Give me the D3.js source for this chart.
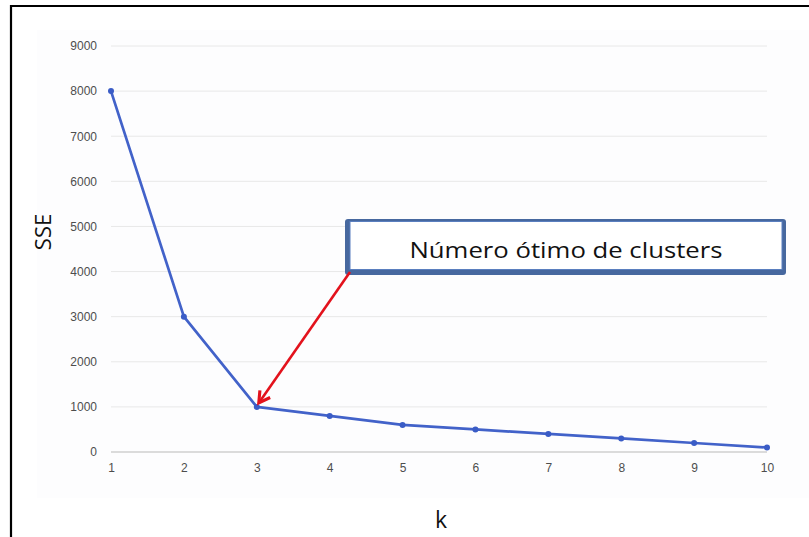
<!DOCTYPE html>
<html>
<head>
<meta charset="utf-8">
<script src="https://cdn.jsdelivr.net/npm/d3@7"></script>
<style>
  html, body { margin: 0; padding: 0; background: #fff; }
  svg { display: block; }
</style>
</head>
<body>
<svg id="chart" width="809" height="537"></svg>
<script>
// Elbow curve: sum of squared errors by number of clusters k
const kValues = [1, 2, 3, 4, 5, 6, 7, 8, 9, 10];
const sseValues = [8000, 3000, 1000, 800, 600, 500, 400, 300, 200, 100];
const yTicks = [0, 1000, 2000, 3000, 4000, 5000, 6000, 7000, 8000, 9000];
const xLabel = "k";
const yLabel = "SSE";
const calloutText = "Número ótimo de clusters";
const calloutK = 3;

const data = kValues.map((k, i) => ({ k, sse: sseValues[i] }));

const svg = d3.select("#chart");

// outer frame (top and left edges)
svg.append("path")
  .attr("d", "M11,537 L11,6 L809,6")
  .attr("fill", "none")
  .attr("stroke", "#000")
  .attr("stroke-width", 2.2);

// faint plot panel
svg.append("rect")
  .attr("x", 37).attr("y", 30)
  .attr("width", 772).attr("height", 468)
  .attr("fill", "#fdfdfe");

const x = d3.scaleLinear().domain([1, 10]).range([111, 767]);
const y = d3.scaleLinear().domain([0, 9000]).range([452, 46]);

// horizontal gridlines
svg.append("g")
  .selectAll("line")
  .data(yTicks)
  .join("line")
  .attr("x1", x(1)).attr("x2", x(10))
  .attr("y1", d => y(d)).attr("y2", d => y(d))
  .attr("stroke", d => d === 0 ? "#cfcfcf" : "#e8e8e8")
  .attr("stroke-width", d => d === 0 ? 1.6 : 1);

// y axis labels
const yAxis = d3.axisLeft(y).tickValues(yTicks).tickSize(0).tickPadding(0).tickFormat(d3.format("d"));
svg.append("g")
  .attr("transform", `translate(97,0)`)
  .call(yAxis)
  .call(g => g.select(".domain").remove())
  .call(g => g.selectAll("text")
    .attr("fill", "#4d4d4d")
    .attr("font-family", "Liberation Sans, Arial, sans-serif")
    .attr("font-size", 12));

// x axis labels
const xAxis = d3.axisBottom(x).tickValues(kValues).tickSize(0).tickPadding(0).tickFormat(d3.format("d"));
svg.append("g")
  .attr("transform", `translate(0,463)`)
  .call(xAxis)
  .call(g => g.select(".domain").remove())
  .call(g => g.selectAll("text")
    .attr("fill", "#4d4d4d")
    .attr("font-family", "Liberation Sans, Arial, sans-serif")
    .attr("font-size", 12));

// axis titles
svg.append("text")
  .attr("transform", `translate(51,232) rotate(-90)`)
  .attr("text-anchor", "middle")
  .attr("font-family", "Open Sans, Noto Sans, sans-serif")
  .attr("font-size", 22)
  .attr("fill", "#111")
  .text(yLabel);

svg.append("text")
  .attr("x", 441).attr("y", 528)
  .attr("text-anchor", "middle")
  .attr("font-family", "Open Sans, Noto Sans, sans-serif")
  .attr("font-size", 23)
  .attr("fill", "#111")
  .text(xLabel);

// the SSE curve
const line = d3.line().x(d => x(d.k)).y(d => y(d.sse));
svg.append("path")
  .datum(data)
  .attr("d", line)
  .attr("fill", "none")
  .attr("stroke", "#4262c9")
  .attr("stroke-width", 2.7)
  .attr("stroke-linejoin", "round");

svg.append("g")
  .selectAll("circle")
  .data(data)
  .join("circle")
  .attr("cx", d => x(d.k))
  .attr("cy", d => y(d.sse))
  .attr("r", 3)
  .attr("fill", "#3a5cc6");

// callout box
const box = { x: 345, y: 219, w: 441, h: 56 };
svg.append("rect")
  .attr("x", box.x).attr("y", box.y)
  .attr("width", box.w).attr("height", box.h)
  .attr("rx", 3)
  .attr("fill", "#47689f");
svg.append("rect")
  .attr("x", box.x + 5).attr("y", box.y + 2.5)
  .attr("width", box.w - 9).attr("height", box.h - 8)
  .attr("fill", "#fff")
  .attr("stroke", "#5a7fbf")
  .attr("stroke-width", 1);
svg.append("text")
  .attr("x", box.x + 5 + (box.w - 9) / 2)
  .attr("y", box.y + 39)
  .attr("text-anchor", "middle")
  .attr("font-family", "Open Sans, Noto Sans, sans-serif")
  .attr("font-size", 22)
  .attr("textLength", 313)
  .attr("lengthAdjust", "spacingAndGlyphs")
  .attr("fill", "#111")
  .text(calloutText);

// red arrow pointing at the elbow
const target = data.find(d => d.k === calloutK);
svg.append("defs").append("marker")
  .attr("id", "arrowhead")
  .attr("viewBox", "0 0 10 10")
  .attr("refX", 8).attr("refY", 5)
  .attr("markerWidth", 6).attr("markerHeight", 6)
  .attr("orient", "auto")
  .append("path")
  .attr("d", "M1,1 L8,5 L1,9")
  .attr("fill", "none")
  .attr("stroke", "#e3121c")
  .attr("stroke-width", 2)
  .attr("stroke-linejoin", "miter");
svg.append("line")
  .attr("x1", box.x + 5).attr("y1", box.y + box.h - 3)
  .attr("x2", x(target.k) + 2).attr("y2", y(target.sse) - 4)
  .attr("stroke", "#e3121c")
  .attr("stroke-width", 2.6)
  .attr("marker-end", "url(#arrowhead)");
</script>
</body>
</html>
